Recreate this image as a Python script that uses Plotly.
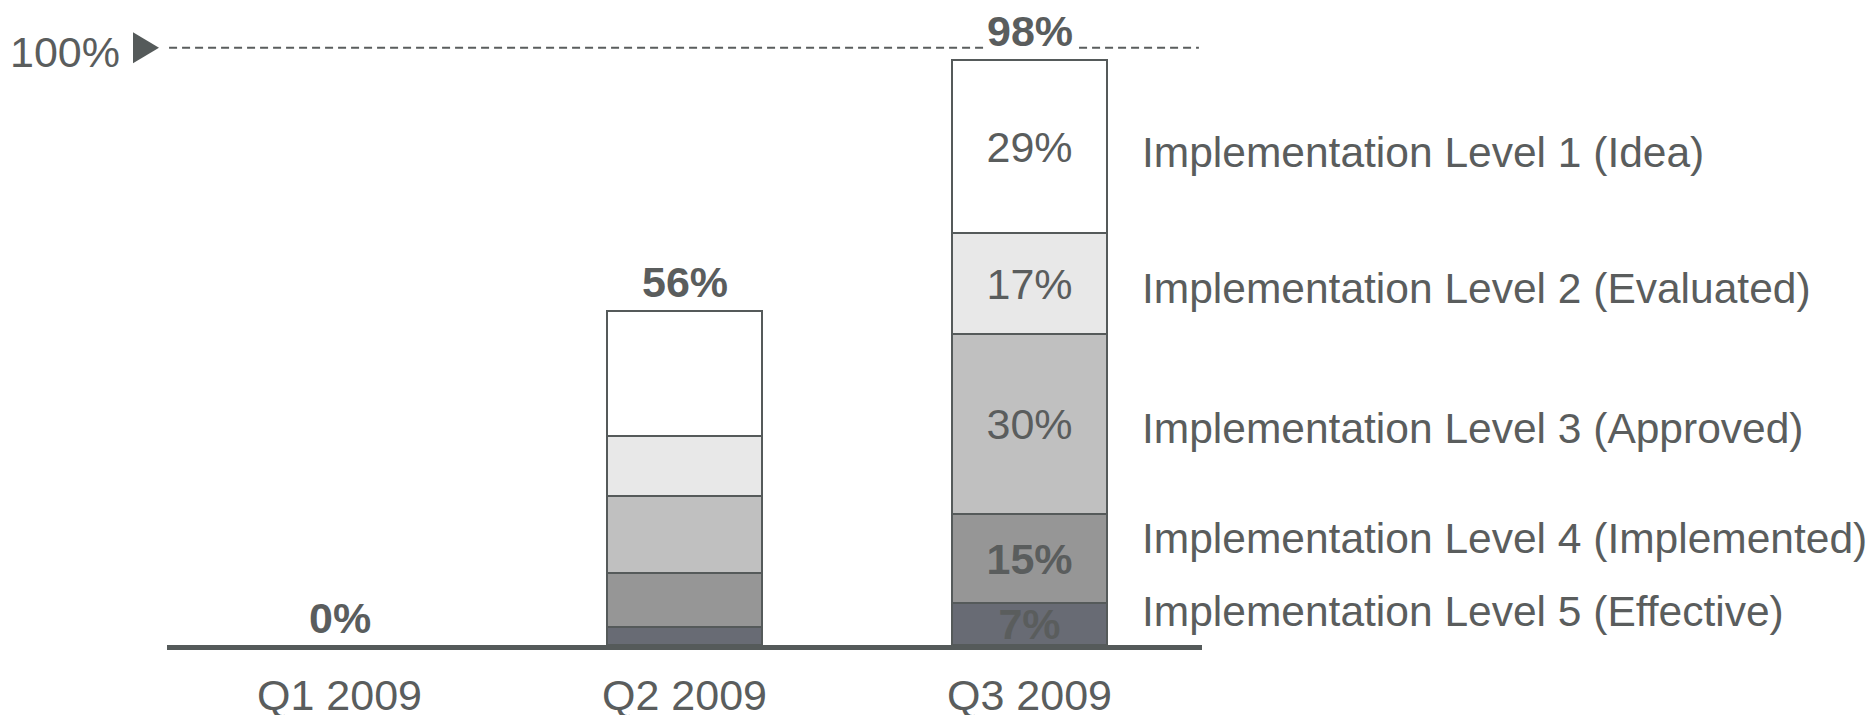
import plotly.graph_objects as go

# ---- data -------------------------------------------------------------
quarters = ["Q1 2009", "Q2 2009", "Q3 2009"]

level_names = [
    "Implementation Level 1 (Idea)",
    "Implementation Level 2 (Evaluated)",
    "Implementation Level 3 (Approved)",
    "Implementation Level 4 (Implemented)",
    "Implementation Level 5 (Effective)",
]

level1 = [0, 21, 29]
level2 = [0, 10, 17]
level3 = [0, 13, 30]
level4 = [0, 9, 15]
level5 = [0, 3, 7]

# vertical position (in % units) of each level's caption on the right
caption_y = [82.4, 59.7, 36.3, 17.8, 5.6]

target = 100
labelled_quarter = "Q3 2009"
bold_levels = [4, 5]

# ---- style ------------------------------------------------------------
FONT = "Liberation Sans, Arial, Helvetica, sans-serif"
TEXT = "#5a5d5d"
LINE = "#555a5a"
fills = ["#ffffff", "#e8e8e8", "#c0c0c0", "#969696", "#686b74"]
FS = 43
FS_CAPTION = 42.5

series = [level1, level2, level3, level4, level5]
totals = [sum(v) for v in zip(*series)]

fig = go.Figure()

# stack from level 5 (bottom) up to level 1 (top)
for idx in range(4, -1, -1):
    vals = series[idx]
    lvl = idx + 1
    texts = []
    for q, v in zip(quarters, vals):
        if q == labelled_quarter:
            t = f"{v}%"
            texts.append(f"<b>{t}</b>" if lvl in bold_levels else t)
        else:
            texts.append("")
    fig.add_trace(go.Bar(
        x=quarters,
        y=vals,
        name=level_names[idx],
        width=0.452,
        marker=dict(
            color=fills[idx],
            line=dict(color=LINE, width=[2 if v > 0 else 0 for v in vals]),
        ),
        text=texts,
        textposition="inside",
        insidetextanchor="middle",
        textangle=0,
        textfont=dict(family=FONT, size=FS, color=TEXT),
        hoverinfo="skip",
    ))

# totals above each stack
for q, tot in zip(quarters, totals):
    fig.add_annotation(
        x=q, y=tot, xref="x", yref="y",
        text=f"<b>{tot}%</b>", showarrow=False,
        yanchor="middle", yshift=29 if tot > 0 else 27,
        font=dict(family=FONT, size=FS, color=TEXT),
        bgcolor="#ffffff", borderpad=2,
    )

# level captions on the right
for name, cy in zip(level_names, caption_y):
    fig.add_annotation(
        x=0.9405, y=cy, xref="paper", yref="y",
        text=name, showarrow=False,
        xanchor="left", yanchor="middle",
        font=dict(family=FONT, size=FS_CAPTION, color=TEXT),
    )

# 100% reference line with marker and caption
fig.add_shape(
    type="line", xref="paper", yref="y",
    x0=0.002, x1=0.997, y0=target, y1=target,
    line=dict(color=TEXT, width=2, dash="8px,5px"),
    layer="below",
)
fig.add_shape(
    type="path", xref="paper", yref="y",
    xsizemode="pixel", ysizemode="pixel",
    xanchor=0, yanchor=target,
    path="M-34,-15.5 L-34,15.5 L-8,0 Z",
    fillcolor=LINE, line=dict(width=0),
)
fig.add_annotation(
    x=0, y=target, xref="paper", yref="y",
    text=f"{target}%", showarrow=False,
    xanchor="right", yanchor="middle", xshift=-45, yshift=-4,
    font=dict(family=FONT, size=FS, color=TEXT),
)

fig.update_layout(
    width=1874, height=715,
    margin=dict(l=167, r=672, t=0, b=70, autoexpand=False),
    barmode="stack",
    bargap=0,
    showlegend=False,
    paper_bgcolor="#ffffff",
    plot_bgcolor="#ffffff",
    uniformtext=dict(minsize=FS, mode="show"),
    font=dict(family=FONT, color=TEXT),
)
fig.update_xaxes(
    type="category",
    categoryorder="array", categoryarray=quarters,
    range=[-0.5, 2.5],
    showline=True, linecolor=LINE, linewidth=5,
    showgrid=False, zeroline=False, ticks="",
    tickfont=dict(family=FONT, size=FS, color=TEXT),
    ticklabelstandoff=8,
    fixedrange=True,
)
fig.update_yaxes(
    range=[0, 108],
    visible=False, showgrid=False, zeroline=False,
    fixedrange=True,
)

fig.write_html("out.html")
